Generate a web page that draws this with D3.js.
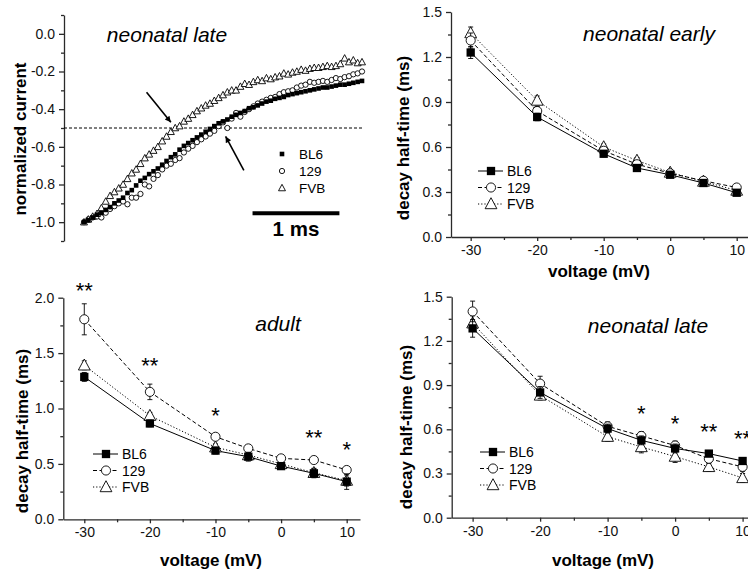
<!DOCTYPE html>
<html>
<head>
<meta charset="utf-8">
<script src="https://cdn.jsdelivr.net/npm/d3@7"></script>
<style>
body { margin: 0; background: #fff; }
svg { display: block; font-family: "Liberation Sans", Arial, sans-serif; }
.tick text { font-family: "Liberation Sans", Arial, sans-serif; font-size: 14px; fill: #111; }
.domain, .tick line { stroke: #2a2a2a; stroke-width: 1.3; }
</style>
</head>
<body>
<svg id="fig" width="748" height="577"></svg>
<script>
'use strict';

// ---- panel A: normalized current traces (neonatal late) ----
const timeMs = [0.00,0.05,0.10,0.15,0.20,0.25,0.30,0.35,0.40,0.45,
    0.50,0.55,0.60,0.65,0.70,0.75,0.80,0.85,0.90,0.95,
    1.00,1.05,1.10,1.15,1.20,1.25,1.30,1.35,1.40,1.45,
    1.50,1.55,1.60,1.65,1.70,1.75,1.80,1.85,1.90,1.95,
    2.00,2.05,2.10,2.15,2.20,2.25,2.30,2.35,2.40,2.45,
    2.50,2.55,2.60,2.65,2.70,2.75,2.80,2.85,2.90,2.95,
    3.00,3.05,3.10,3.15,3.20];
const traceBL6 = [-1.00,-0.99,-0.975,-0.96,-0.95,-0.935,-0.92,-0.90,-0.885,-0.87,
    -0.845,-0.83,-0.805,-0.78,-0.765,-0.745,-0.73,-0.715,-0.695,-0.675,
    -0.655,-0.64,-0.615,-0.595,-0.58,-0.565,-0.55,-0.535,-0.52,-0.505,
    -0.49,-0.475,-0.465,-0.455,-0.44,-0.43,-0.42,-0.41,-0.395,-0.39,
    -0.38,-0.37,-0.36,-0.355,-0.345,-0.34,-0.335,-0.325,-0.32,-0.315,
    -0.31,-0.305,-0.30,-0.295,-0.29,-0.285,-0.285,-0.28,-0.275,-0.27,
    -0.27,-0.265,-0.26,-0.255,-0.25];
const trace129 = [-1.00,-0.985,-0.975,-0.97,-0.975,-0.95,-0.93,-0.915,-0.90,-0.89,
    -0.905,-0.87,-0.87,-0.85,-0.80,-0.81,-0.77,-0.75,-0.72,-0.70,
    -0.69,-0.67,-0.66,-0.63,-0.61,-0.595,-0.575,-0.56,-0.545,-0.53,
    -0.515,-0.49,-0.47,-0.50,-0.45,-0.42,-0.44,-0.415,-0.40,-0.385,
    -0.37,-0.36,-0.35,-0.34,-0.335,-0.32,-0.31,-0.305,-0.30,-0.285,
    -0.275,-0.27,-0.255,-0.26,-0.255,-0.25,-0.255,-0.245,-0.235,-0.24,
    -0.23,-0.225,-0.215,-0.21,-0.20];
const traceFVB = [-1.00,-0.985,-0.97,-0.955,-0.925,-0.89,-0.86,-0.84,-0.82,-0.80,
    -0.77,-0.74,-0.72,-0.69,-0.66,-0.64,-0.62,-0.60,-0.57,-0.545,
    -0.52,-0.50,-0.49,-0.465,-0.45,-0.43,-0.41,-0.395,-0.38,-0.37,
    -0.355,-0.34,-0.325,-0.31,-0.30,-0.30,-0.28,-0.265,-0.27,-0.255,
    -0.245,-0.25,-0.235,-0.24,-0.23,-0.225,-0.21,-0.215,-0.205,-0.20,
    -0.19,-0.195,-0.185,-0.18,-0.18,-0.175,-0.17,-0.175,-0.17,-0.16,
    -0.13,-0.15,-0.14,-0.155,-0.15];
const traceTicks = [0.0, -0.2, -0.4, -0.6, -0.8, -1.0];
const traceMinor = [0.1, -0.1, -0.3, -0.5, -0.7, -0.9, -1.1];
const halfLevel = -0.5;
const arrowsA = [
    {from: [0.72, -0.31], to: [1.0, -0.47]},
    {from: [1.84, -0.725], to: [1.63, -0.545]}
];
const scaleBar = {start: 1.94, len: 1, level: -0.952, label: "1 ms"};

// ---- panels B-D: decay half-time vs voltage ----
const strains = ["BL6", "129", "FVB"];
const voltages = [-30, -20, -10, -5, 0, 5, 10];
const voltTicks = [-30, -20, -10, 0, 10];
const voltMinor = [-25, -15, -5, 5];

const earlyBL6 = [1.23, 0.80, 0.555, 0.46, 0.415, 0.36, 0.295];
const early129 = [1.31, 0.84, 0.575, 0.485, 0.425, 0.375, 0.33];
const earlyFVB = [1.36, 0.91, 0.60, 0.51, 0.43, 0.37, 0.31];
const earlyErrBL6 = [0.04, 0.025, 0.02, 0.015, 0.015, 0.015, 0.015];
const earlyErr129 = [0.05, 0.03, 0.02, 0.02, 0.015, 0.02, 0.02];
const earlyErrFVB = [0.04, 0.03, 0.02, 0.02, 0.02, 0.02, 0.02];

const adultBL6 = [1.285, 0.865, 0.62, 0.565, 0.48, 0.415, 0.34];
const adult129 = [1.805, 1.15, 0.745, 0.64, 0.55, 0.535, 0.445];
const adultFVB = [1.39, 0.935, 0.65, 0.58, 0.50, 0.42, 0.35];
const adultErrBL6 = [0.04, 0.03, 0.03, 0.04, 0.03, 0.04, 0.07];
const adultErr129 = [0.14, 0.07, 0.03, 0.03, 0.02, 0.02, 0.03];
const adultErrFVB = [0.04, 0.03, 0.03, 0.03, 0.03, 0.04, 0.05];

const lateBL6 = [1.285, 0.85, 0.605, 0.525, 0.47, 0.435, 0.385];
const late129 = [1.40, 0.91, 0.62, 0.555, 0.49, 0.40, 0.345];
const lateFVB = [1.32, 0.83, 0.55, 0.48, 0.415, 0.345, 0.27];
const lateErrBL6 = [0.06, 0.04, 0.03, 0.03, 0.03, 0.02, 0.02];
const lateErr129 = [0.07, 0.05, 0.03, 0.03, 0.03, 0.03, 0.03];
const lateErrFVB = [0.05, 0.03, 0.03, 0.04, 0.04, 0.03, 0.03];

const adultStarVolt = [-30, -20, -10, 5, 10];
const adultStarLevel = [2.115, 1.44, 0.985, 0.79, 0.68];
const adultStarText = ["**", "**", "*", "**", "*"];
const lateStarVolt = [-5, 0, 5, 10];
const lateStarLevel = [0.743, 0.675, 0.625, 0.573];
const lateStarText = ["*", "*", "**", "**"];

const svg = d3.select("#fig");

svg.append("defs").append("marker")
    .attr("id", "arrowhead")
    .attr("markerUnits", "userSpaceOnUse")
    .attr("viewBox", "0 0 10 10")
    .attr("refX", 10).attr("refY", 5)
    .attr("markerWidth", 10).attr("markerHeight", 6)
    .attr("orient", "auto")
    .append("path").attr("d", "M0,0 L10,5 L0,10 z").attr("fill", "#000");

const dashes = {"BL6": null, "129": "4,2.5", "FVB": "1.2,2"};

function drawMark(g, type, x, y, s) {
    if (type === "BL6") {
        g.append("rect").attr("x", x - s / 2).attr("y", y - s / 2)
            .attr("width", s).attr("height", s).attr("fill", "#000");
    } else if (type === "129") {
        g.append("circle").attr("cx", x).attr("cy", y).attr("r", s * 0.55)
            .attr("fill", "#fff").attr("stroke", "#000").attr("stroke-width", 0.9);
    } else {
        let h = s * 1.1;
        g.append("path")
            .attr("d", `M${x},${y - h * 0.6} L${x + s * 0.62},${y + h * 0.45} L${x - s * 0.62},${y + h * 0.45} Z`)
            .attr("fill", "#fff").attr("stroke", "#000").attr("stroke-width", 0.9);
    }
}

function yAxis(g, x, y, major, minor, fmt) {
    g.append("g").attr("transform", `translate(${x},0)`)
        .call(d3.axisLeft(y).tickValues(minor).tickSize(3).tickSizeOuter(0).tickFormat(""))
        .select(".domain").remove();
    g.append("g").attr("transform", `translate(${x},0)`)
        .call(d3.axisLeft(y).tickValues(major).tickSize(5).tickPadding(4).tickSizeOuter(0).tickFormat(fmt));
}

function rotLabel(g, text, x, y) {
    g.append("text").attr("transform", `translate(${x},${y}) rotate(-90)`)
        .attr("text-anchor", "middle").attr("font-size", 17).attr("font-weight", "bold")
        .text(text);
}

// ================= panel A =================
(function () {
    let g = svg.append("g");
    let x = d3.scaleLinear().domain([0, 3.2]).range([84, 362]);
    let y = d3.scaleLinear().domain([-1.1, 0.1]).range([241, 15]);

    yAxis(g, 64, y, traceTicks, traceMinor, d => d.toFixed(1));
    rotLabel(g, "normalized current", 26, 139);

    g.append("line")
        .attr("x1", 64).attr("x2", x(3.2))
        .attr("y1", y(halfLevel)).attr("y2", y(halfLevel))
        .attr("stroke", "#000").attr("stroke-width", 1).attr("stroke-dasharray", "3,2");

    let traces = {"BL6": traceBL6, "129": trace129, "FVB": traceFVB};
    for (let name of ["129", "FVB", "BL6"]) {
        let vals = traces[name];
        let size = name === "BL6" ? 4.6 : (name === "129" ? 4.8 : 5.6);
        timeMs.forEach((t, i) => drawMark(g, name, x(t), y(vals[i]), size));
    }

    for (let a of arrowsA) {
        g.append("line")
            .attr("x1", x(a.from[0])).attr("y1", y(a.from[1]))
            .attr("x2", x(a.to[0])).attr("y2", y(a.to[1]))
            .attr("stroke", "#000").attr("stroke-width", 1.6)
            .attr("marker-end", "url(#arrowhead)");
    }

    strains.forEach((s, i) => {
        let ly = 154 + i * 17;
        drawMark(g, s, 282, ly, s === "BL6" ? 4.6 : (s === "129" ? 4.8 : 5.6));
        g.append("text").attr("x", 299).attr("y", ly).attr("dy", "0.36em")
            .attr("font-size", 13.5).text(s);
    });

    g.append("line")
        .attr("x1", x(scaleBar.start)).attr("x2", x(scaleBar.start + scaleBar.len))
        .attr("y1", y(scaleBar.level)).attr("y2", y(scaleBar.level))
        .attr("stroke", "#000").attr("stroke-width", 4);
    g.append("text")
        .attr("x", x(scaleBar.start + scaleBar.len / 2)).attr("y", 236)
        .attr("text-anchor", "middle").attr("font-size", 20.5).attr("font-weight", "bold")
        .text(scaleBar.label);

    g.append("text").attr("x", 167).attr("y", 42).attr("text-anchor", "middle")
        .attr("font-size", 21).attr("font-style", "italic").text("neonatal late");
})();

// ================= panels B-D =================
function drawIV(cfg) {
    let g = svg.append("g");
    let x = d3.scaleLinear().domain(cfg.xDomain).range(cfg.xRange);
    let y = d3.scaleLinear().domain(cfg.yDomain).range(cfg.yRange);
    let base = cfg.yRange[0];

    g.append("g").attr("transform", `translate(0,${base})`)
        .call(d3.axisBottom(x).tickValues(voltMinor).tickSize(3).tickSizeOuter(0).tickFormat(""))
        .select(".domain").remove();
    g.append("g").attr("transform", `translate(0,${base})`)
        .call(d3.axisBottom(x).tickValues(voltTicks).tickSize(4).tickPadding(4)
            .tickSizeOuter(0).tickFormat(d => String(d)));
    yAxis(g, cfg.xRange[0], y, cfg.yTicks, cfg.yMinor, d => d.toFixed(1));

    rotLabel(g, "decay half-time (ms)", cfg.yLabel[0], cfg.yLabel[1]);
    g.append("text").attr("x", cfg.xLabel[0]).attr("y", cfg.xLabel[1])
        .attr("text-anchor", "middle").attr("font-size", 17).attr("font-weight", "bold")
        .text("voltage (mV)");
    g.append("text").attr("x", cfg.title[0]).attr("y", cfg.title[1])
        .attr("text-anchor", "middle").attr("font-size", 21).attr("font-style", "italic")
        .text(cfg.titleText);

    let line = d3.line().x((d, i) => x(voltages[i])).y(d => y(d));

    // lines first, then error bars and markers (BL6 on top)
    for (let s of ["FVB", "129", "BL6"]) {
        g.append("path").attr("d", line(cfg.vals[s]))
            .attr("fill", "none").attr("stroke", "#000").attr("stroke-width", 1)
            .attr("stroke-dasharray", dashes[s]);
    }
    for (let s of ["FVB", "129", "BL6"]) {
        cfg.vals[s].forEach((v, i) => {
            let cx = x(voltages[i]), e = cfg.errs[s][i];
            g.append("line").attr("x1", cx).attr("x2", cx)
                .attr("y1", y(v - e)).attr("y2", y(v + e))
                .attr("stroke", "#000").attr("stroke-width", 0.9);
            for (let ev of [v - e, v + e]) {
                g.append("line").attr("x1", cx - 2.5).attr("x2", cx + 2.5)
                    .attr("y1", y(ev)).attr("y2", y(ev))
                    .attr("stroke", "#000").attr("stroke-width", 0.9);
            }
        });
        cfg.vals[s].forEach((v, i) => drawMark(g, s, x(voltages[i]), y(v), s === "FVB" ? 9.5 : 8.3));
    }

    if (cfg.stars) {
        cfg.stars.volt.forEach((v, i) => {
            g.append("text").attr("x", x(v)).attr("y", y(cfg.stars.level[i]))
                .attr("dy", "0.6em").attr("text-anchor", "middle")
                .attr("font-size", 22).text(cfg.stars.text[i]);
        });
    }

    strains.forEach((s, i) => {
        let ly = cfg.legend[1] + i * 16.5, lx = cfg.legend[0];
        g.append("line").attr("x1", lx).attr("x2", lx + 25).attr("y1", ly).attr("y2", ly)
            .attr("stroke", "#000").attr("stroke-width", 1).attr("stroke-dasharray", dashes[s]);
        drawMark(g, s, lx + 13, ly, s === "FVB" ? 9.5 : 8.3);
        g.append("text").attr("x", lx + 29).attr("y", ly).attr("dy", "0.36em")
            .attr("font-size", 14).text(s);
    });
}

drawIV({
    xDomain: [-32.96, 11.7], xRange: [451, 748],
    yDomain: [0, 1.5], yRange: [237, 12],
    yTicks: [0, 0.3, 0.6, 0.9, 1.2, 1.5], yMinor: [0.15, 0.45, 0.75, 1.05, 1.35],
    vals: {"BL6": earlyBL6, "129": early129, "FVB": earlyFVB},
    errs: {"BL6": earlyErrBL6, "129": earlyErr129, "FVB": earlyErrFVB},
    yLabel: [409, 138], xLabel: [599, 277], title: [649, 41], titleText: "neonatal early",
    legend: [478, 171]
});

drawIV({
    xDomain: [-33.2, 12.03], xRange: [63.3, 360],
    yDomain: [0, 2.0], yRange: [519.3, 297.7],
    yTicks: [0, 0.5, 1.0, 1.5, 2.0], yMinor: [0.25, 0.75, 1.25, 1.75],
    vals: {"BL6": adultBL6, "129": adult129, "FVB": adultFVB},
    errs: {"BL6": adultErrBL6, "129": adultErr129, "FVB": adultErrFVB},
    yLabel: [28, 431], xLabel: [211, 566], title: [278, 331], titleText: "adult",
    legend: [93, 454],
    stars: {volt: adultStarVolt, level: adultStarLevel, text: adultStarText}
});

drawIV({
    xDomain: [-33.1, 10.8], xRange: [451.7, 748],
    yDomain: [0, 1.5], yRange: [517.7, 296.7],
    yTicks: [0, 0.3, 0.6, 0.9, 1.2, 1.5], yMinor: [0.15, 0.45, 0.75, 1.05, 1.35],
    vals: {"BL6": lateBL6, "129": late129, "FVB": lateFVB},
    errs: {"BL6": lateErrBL6, "129": lateErr129, "FVB": lateErrFVB},
    yLabel: [412, 427], xLabel: [603, 566], title: [648, 333], titleText: "neonatal late",
    legend: [480, 452],
    stars: {volt: lateStarVolt, level: lateStarLevel, text: lateStarText}
});
</script>
</body>
</html>
